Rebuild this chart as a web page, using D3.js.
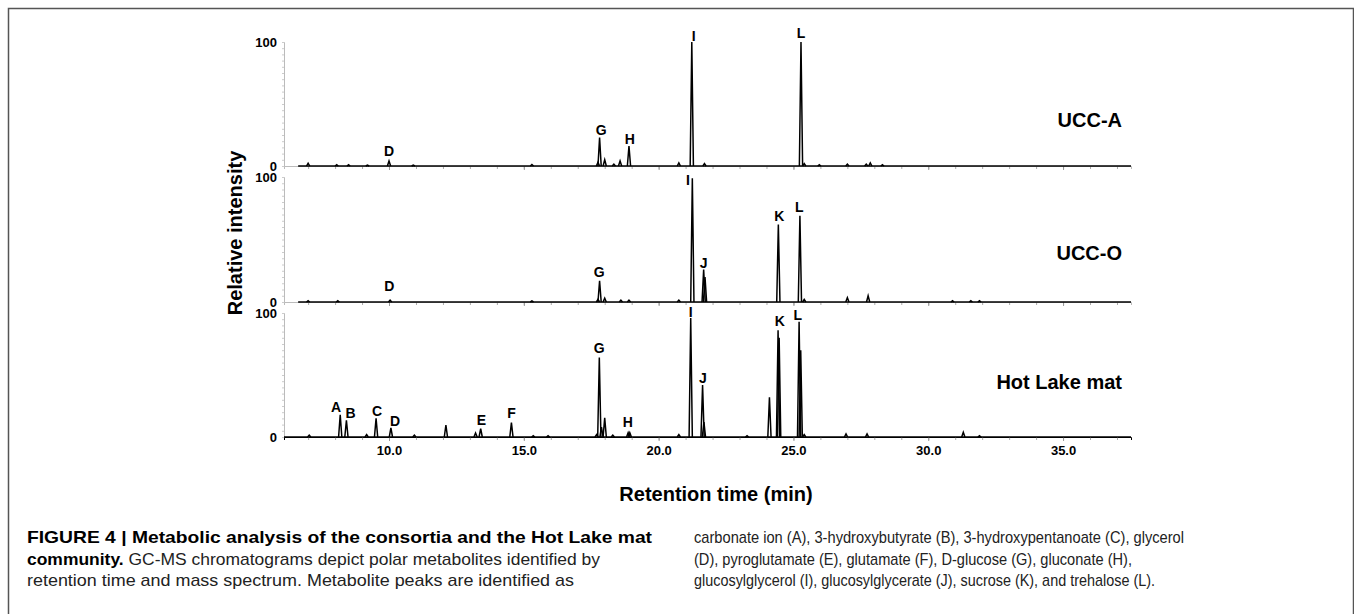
<!DOCTYPE html>
<html>
  <head>
    <meta charset="utf-8" />
    <script type="text/javascript" src="https://cdnjs.cloudflare.com/ajax/libs/d3/7.8.5/d3.min.js"></script>
    <style>
      body {
        margin: 0;
        background: #fff;
      }
      .peaklbl {
        font: bold 14px 'Liberation Sans', Arial, sans-serif;
      }
      .ticklbl {
        font: bold 13px 'Liberation Sans', Arial, sans-serif;
      }
      .title {
        font: bold 20px 'Liberation Sans', Arial, sans-serif;
      }
      .caption {
        font-family: 'Liberation Sans', Arial, sans-serif;
        font-size: 17px;
        fill: #222;
      }
    </style>
  </head>

  <body>
    <svg id="mySVG" width="1354" height="614"></svg>
    <script type="text/javascript">
      // peak retention times (min) and relative heights
      var uccATimes = [7.0, 8.06, 8.5, 9.2, 10.0, 10.9, 15.3, 17.75, 17.81, 18.0, 18.34, 18.57, 18.9, 20.75, 21.23, 21.7, 25.28, 25.4, 25.96, 27.0, 27.7, 27.85, 28.3];
      var uccAHeights = [2.3, 1, 1, 0.8, 4, 0.8, 1.2, 3, 23, 5, 1.5, 4, 16, 2.5, 100, 2, 100, 2, 1, 1.5, 1.5, 2.5, 1];

      var uccOTimes = [7.0, 8.1, 10.04, 15.3, 17.75, 17.81, 18.0, 18.6, 18.9, 20.75, 21.25, 21.67, 21.72, 24.44, 25.24, 25.4, 27.0, 27.77, 30.9, 31.58, 31.9];
      var uccOHeights = [1, 1, 1.5, 0.8, 2, 17, 3, 1.5, 1.5, 1.5, 99, 26, 20, 62, 69, 2, 3.5, 5, 1, 1, 1];

      var matTimes = [7.04, 8.19, 8.42, 9.17, 9.52, 10.07, 10.94, 12.11, 13.21, 13.4, 14.54, 15.35, 15.9, 17.7, 17.8, 17.88, 18.0, 18.3, 18.87, 18.93, 20.75, 21.19, 21.63, 21.68, 23.28, 24.11, 24.43, 24.47, 25.21, 25.27, 25.4, 26.95, 27.73, 31.3, 31.9];
      var matHeights = [1.5, 18, 13.5, 2, 15, 7.3, 1.5, 9.5, 3.2, 6.8, 11.6, 1, 1, 2, 64, 8, 15.4, 1.5, 3.5, 3.5, 2, 96, 42, 12, 1, 32, 86, 80, 93, 70, 2, 2.5, 2.5, 3.8, 1];

      // peak letters: [letter, time, label height]
      var uccALabels = [['D', 10.0, 7.8], ['G', 17.87, 24.8], ['H', 18.93, 18], ['I', 21.3, 100.8], ['L', 25.28, 103.5]];
      var uccOLabels = [['D', 10.01, 8.5], ['G', 17.8, 20], ['I', 21.09, 93.8], ['J', 21.67, 27], ['K', 24.48, 64.5], ['L', 25.22, 71.7]];
      var matLabels = [['A', 8.04, 19.8], ['B', 8.57, 15.7], ['C', 9.56, 16.8], ['D', 10.22, 8.7], ['E', 13.43, 9.5], ['F', 14.54, 15], ['G', 17.8, 67.6], ['H', 18.86, 8.1], ['I', 21.19, 96.5], ['J', 21.64, 43.8], ['K', 24.49, 89.2], ['L', 25.16, 94]];

      var sampleNames = ['UCC-A', 'UCC-O', 'Hot Lake mat'];
      var xTickValues = [10, 15, 20, 25, 30, 35];
      var yTickValues = [0, 100];

      var captionLeft = [
        ['FIGURE 4 | Metabolic analysis of the consortia and the Hot Lake mat', ''],
        ['community.', ' GC-MS chromatograms depict polar metabolites identified by'],
        ['', 'retention time and mass spectrum. Metabolite peaks are identified as']
      ];
      var captionRight = [
        'carbonate ion (A), 3-hydroxybutyrate (B), 3-hydroxypentanoate (C), glycerol',
        '(D), pyroglutamate (E), glutamate (F), D-glucose (G), gluconate (H),',
        'glucosylglycerol (I), glucosylglycerate (J), sucrose (K), and trehalose (L).'
      ];
      var captionLeftWidths = [625, 573, 547];
      var captionRightWidths = [490, 438, 461];

      var svg = d3.select('svg');

      // frame around the figure
      svg.append('path')
        .attr('d', 'M8.5,700V8.5H1353.5V700')
        .attr('fill', 'none')
        .attr('stroke', '#555')
        .attr('stroke-width', 1.5);

      var sx = d3.scaleLinear().domain([6.105, 37.52]).range([284, 1131]);

      var panels = [
        { times: uccATimes, heights: uccAHeights, labels: uccALabels, y0: 166, y1: 42, start: 6.63, nameY: 127 },
        { times: uccOTimes, heights: uccOHeights, labels: uccOLabels, y0: 302, y1: 177, start: 6.63, nameY: 260 },
        { times: matTimes, heights: matHeights, labels: matLabels, y0: 437, y1: 313, start: 6.105, nameY: 389 }
      ];

      var halfWidth = 0.06;

      panels.forEach(function(p, k) {
        var sy = d3.scaleLinear().domain([0, 100]).range([p.y0, p.y1]);
        var last = k == panels.length - 1;

        // y axis: grey line with fine ticks, only 0 and 100 labelled
        var ya = svg.append('g')
          .attr('transform', 'translate(284,0)')
          .call(d3.axisLeft(sy).tickValues(d3.range(0, 101, 5)).tickSize(2).tickFormat(''));
        ya.select('.domain').attr('stroke', '#bbb');
        ya.selectAll('.tick line').attr('stroke', '#ccc');
        yTickValues.forEach(function(v) {
          svg.append('text')
            .attr('class', 'ticklbl')
            .attr('x', 277)
            .attr('y', sy(v))
            .attr('dy', '0.36em')
            .attr('text-anchor', 'end')
            .text(v);
        });

        // x axis with minor ticks every minute
        var xm = svg.append('g')
          .attr('transform', 'translate(0,' + p.y0 + ')')
          .call(d3.axisBottom(sx).tickValues(d3.range(7, 38, 1)).tickSize(3).tickFormat(''));
        xm.select('.domain').attr('stroke', last ? '#000' : '#bbb');
        xm.selectAll('.tick line').attr('stroke', '#aaa');
        var xa = svg.append('g')
          .attr('transform', 'translate(0,' + p.y0 + ')')
          .call(d3.axisBottom(sx).tickValues(xTickValues).tickSize(4).tickPadding(5)
            .tickFormat(last ? d3.format('.1f') : ''));
        xa.select('.domain').remove();
        xa.selectAll('.tick line').attr('stroke', '#999');
        xa.selectAll('.tick text').attr('class', 'ticklbl').attr('fill', '#000');

        // baseline of the trace
        var line = d3.line()
          .x(function(d) { return sx(d[0]); })
          .y(function(d) { return sy(d[1]); });
        svg.append('path')
          .attr('d', line([[p.start, 0], [37.52, 0]]))
          .attr('fill', 'none')
          .attr('stroke', '#000')
          .attr('stroke-width', 1.5);

        // peaks
        p.times.forEach(function(t, i) {
          svg.append('path')
            .attr('d', line([[t - halfWidth, 0], [t, p.heights[i]], [t + halfWidth, 0]]))
            .attr('fill', 'none')
            .attr('stroke', '#000')
            .attr('stroke-width', 1.5);
        });

        p.labels.forEach(function(l) {
          svg.append('text')
            .attr('class', 'peaklbl')
            .attr('x', sx(l[1]))
            .attr('y', sy(l[2]))
            .attr('text-anchor', 'middle')
            .text(l[0]);
        });

        svg.append('text')
          .attr('class', 'title')
          .attr('x', 1122)
          .attr('y', p.nameY)
          .attr('text-anchor', 'end')
          .text(sampleNames[k]);
      });

      svg.append('text')
        .attr('class', 'title')
        .attr('transform', 'translate(242,233) rotate(-90)')
        .attr('text-anchor', 'middle')
        .text('Relative intensity');

      svg.append('text')
        .attr('class', 'title')
        .attr('x', 716)
        .attr('y', 501)
        .attr('text-anchor', 'middle')
        .text('Retention time (min)');

      // caption, squeezed/stretched to the column widths of the page
      captionLeft.forEach(function(c, i) {
        var t = svg.append('text')
          .attr('class', 'caption')
          .attr('x', 27)
          .attr('y', 543 + i * 21.5)
          .attr('textLength', captionLeftWidths[i])
          .attr('lengthAdjust', 'spacingAndGlyphs');
        t.append('tspan').attr('font-weight', 'bold').attr('fill', '#000').text(c[0]);
        t.append('tspan').text(c[1]);
      });
      captionRight.forEach(function(c, i) {
        svg.append('text')
          .attr('class', 'caption')
          .attr('x', 694)
          .attr('y', 543 + i * 21.5)
          .attr('textLength', captionRightWidths[i])
          .attr('lengthAdjust', 'spacingAndGlyphs')
          .text(c);
      });
    </script>
  </body>
</html>
